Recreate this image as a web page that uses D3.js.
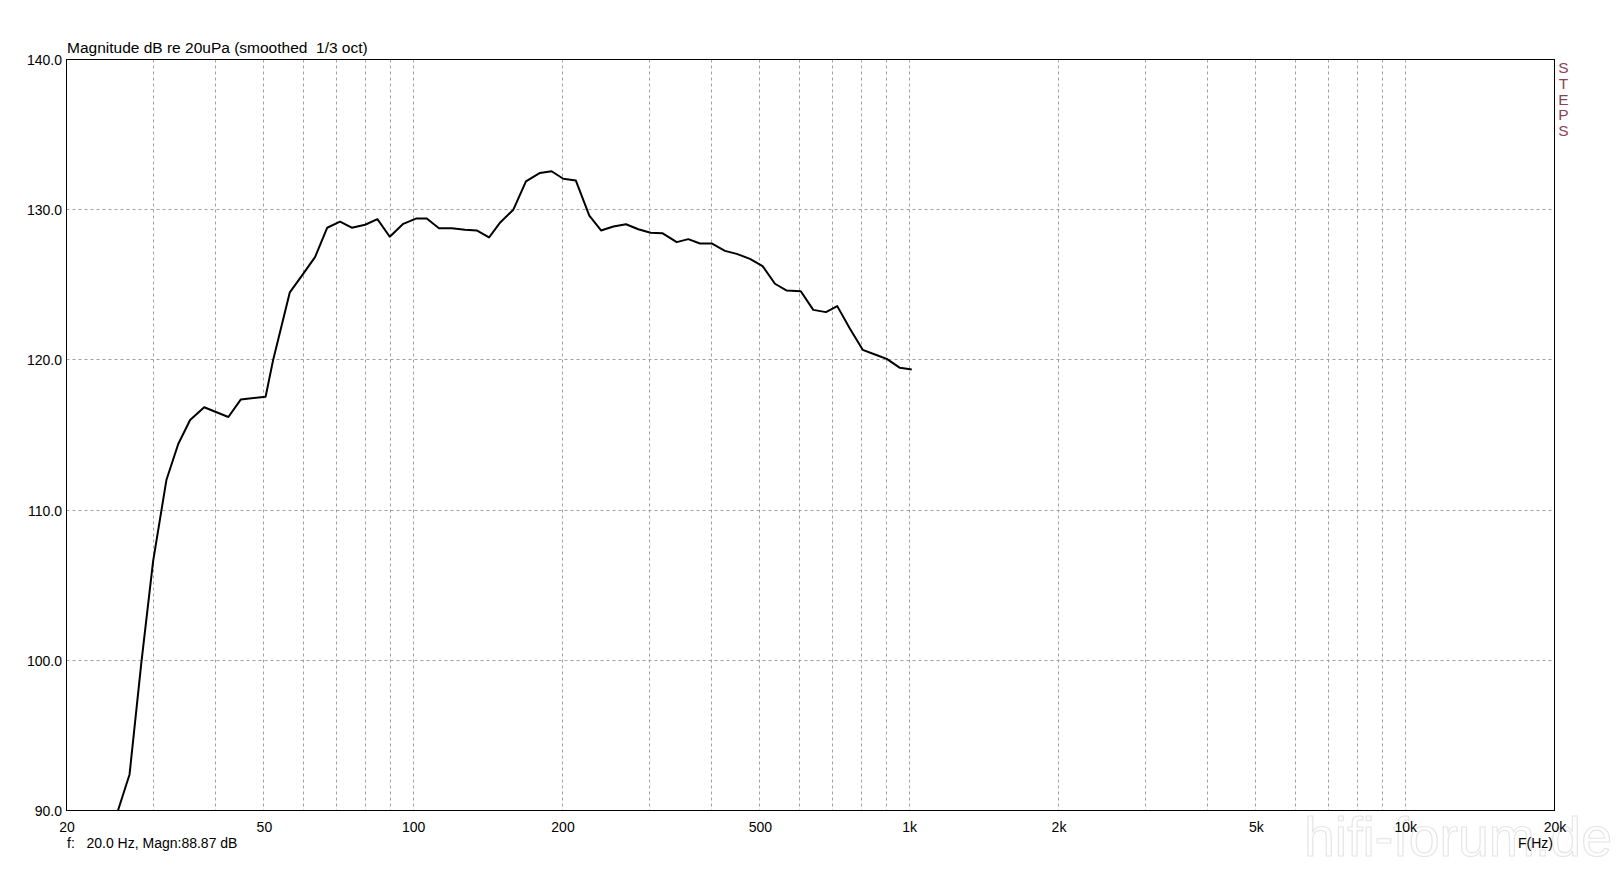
<!DOCTYPE html>
<html>
<head>
<meta charset="utf-8">
<script src="https://cdn.jsdelivr.net/npm/d3@7"></script>
<style>
html,body{margin:0;padding:0;background:#fff;}
svg{display:block;}
text{font-family:"Liberation Sans",Arial,sans-serif;}
</style>
</head>
<body>
<svg id="chart" width="1620" height="869"></svg>
<script>
const freqs = [25.4, 26.8, 28.3, 29.9, 31.8, 33.6, 35.5, 37.9, 42.4, 44.9, 50.4, 52.2, 56.4, 60.0, 63.4, 67.1, 71.2, 75.2, 80.0, 84.7, 89.7, 95.5, 101.3, 106.5, 112.7, 119.6, 127.2, 134.3, 142.2, 149.8, 159.2, 168.8, 180.1, 190.1, 200.7, 212.8, 226.5, 239.2, 253.3, 268.6, 284.3, 301.1, 317.9, 339.9, 358.6, 378.6, 399.7, 425.2, 449.0, 477.5, 506.4, 536.3, 566.5, 604.6, 640.6, 679.6, 716.1, 759.6, 805.9, 853.2, 901.0, 958.0, 1012];
const magnitudes = [90.0, 92.4, 99.8, 106.6, 112.0, 114.4, 116.0, 116.85, 116.2, 117.36, 117.55, 120.0, 124.5, 125.73, 126.84, 128.8, 129.2, 128.8, 129.0, 129.37, 128.2, 129.06, 129.41, 129.41, 128.77, 128.77, 128.66, 128.62, 128.15, 129.15, 130.0, 131.88, 132.45, 132.56, 132.06, 131.94, 129.61, 128.62, 128.88, 129.03, 128.7, 128.46, 128.44, 127.84, 128.04, 127.75, 127.75, 127.26, 127.06, 126.73, 126.24, 125.07, 124.62, 124.57, 123.33, 123.18, 123.58, 122.07, 120.67, 120.36, 120.07, 119.47, 119.36];
const xTickValues = [20, 50, 100, 200, 500, 1000, 2000, 5000, 10000, 20000];
const xTickLabels = ["20", "50", "100", "200", "500", "1k", "2k", "5k", "10k", "20k"];
const xGridValues = [30, 40, 50, 60, 70, 80, 90, 100, 200, 300, 400, 500, 600, 700, 800, 900, 1000, 2000, 3000, 4000, 5000, 6000, 7000, 8000, 9000, 10000];
const yTickValues = [90, 100, 110, 120, 130, 140];
const yGridValues = [100, 110, 120, 130];
const titleText = "Magnitude dB re 20uPa (smoothed  1/3 oct)";
const footerText = "f:   20.0 Hz, Magn:88.87 dB";
const xAxisTitle = "F(Hz)";
const brandText = "STEPS";
const watermarkText = "hifi-forum.de";

const svg = d3.select("#chart");
const L = 66.5, R = 1554.5, T = 59.5, B = 810.5;

const x = d3.scaleLog().domain([20, 20000]).range([L, R]);
const y = d3.scaleLinear().domain([90, 140]).range([B, T]);

// watermark (faint outlined text in the bottom-right corner)
svg.append("text")
  .attr("x", 1304).attr("y", 856)
  .attr("textLength", 308).attr("lengthAdjust", "spacingAndGlyphs")
  .style("font-size", "56px")
  .attr("fill", "#fff").attr("stroke", "#e6e6e6").attr("stroke-width", 1.2)
  .text(watermarkText);

// grid
const grid = svg.append("g").attr("stroke", "#a0a0a0").attr("stroke-width", 1).attr("stroke-dasharray", "3,3");
grid.selectAll("line.vx").data(xGridValues).join("line")
  .attr("x1", d => Math.round(x(d) - 0.5) + 0.5).attr("x2", d => Math.round(x(d) - 0.5) + 0.5)
  .attr("y1", T).attr("y2", B);
grid.selectAll("line.hy").data(yGridValues).join("line")
  .attr("y1", d => Math.round(y(d) - 0.5) + 0.5).attr("y2", d => Math.round(y(d) - 0.5) + 0.5)
  .attr("x1", L).attr("x2", R);

// frame
svg.append("rect").attr("x", L).attr("y", T).attr("width", R - L).attr("height", B - T)
  .attr("fill", "none").attr("stroke", "#000").attr("stroke-width", 1);

// x axis labels via d3 axis
const xAxis = d3.axisBottom(x).tickValues(xTickValues).tickSize(0).tickPadding(0)
  .tickFormat((d, i) => xTickLabels[i]);
const gx = svg.append("g").attr("transform", `translate(0,${B})`).call(xAxis);
gx.select(".domain").remove();
gx.selectAll("text").attr("dy", null).attr("y", 21).style("font-size", "14px")
  .style("font-family", "'Liberation Sans',Arial,sans-serif").attr("fill", "#000");

const yAxis = d3.axisLeft(y).tickValues(yTickValues).tickSize(0).tickPadding(0)
  .tickFormat(d3.format(".1f"));
const gy = svg.append("g").attr("transform", `translate(${L - 4.5},0)`).call(yAxis);
gy.select(".domain").remove();
gy.selectAll("text").attr("dy", "0.36em").style("font-size", "14px")
  .style("font-family", "'Liberation Sans',Arial,sans-serif").attr("fill", "#000");

// curve
const line = d3.line().x((d, i) => x(freqs[i])).y(d => y(d));
svg.append("path").datum(magnitudes).attr("d", line)
  .attr("fill", "none").attr("stroke", "#000").attr("stroke-width", 2).attr("stroke-linejoin", "round");

// texts
svg.append("text").attr("x", 67).attr("y", 53).style("font-size", "15.5px").attr("fill", "#000")
  .attr("xml:space", "preserve").style("white-space", "pre").text(titleText);
svg.append("text").attr("x", 67).attr("y", 848).style("font-size", "14px").attr("fill", "#000")
  .attr("xml:space", "preserve").style("white-space", "pre").text(footerText);
svg.append("text").attr("x", 1553).attr("y", 848).attr("text-anchor", "end").style("font-size", "14px")
  .attr("fill", "#000").text(xAxisTitle);

const brand = svg.append("g");
brand.selectAll("text").data(brandText.split("")).join("text")
  .attr("x", 1563.5).attr("y", (d, i) => 73 + i * 15.8).attr("text-anchor", "middle")
  .style("font-size", "15.5px").attr("fill", "#8a4458").text(d => d);
</script>
</body>
</html>
